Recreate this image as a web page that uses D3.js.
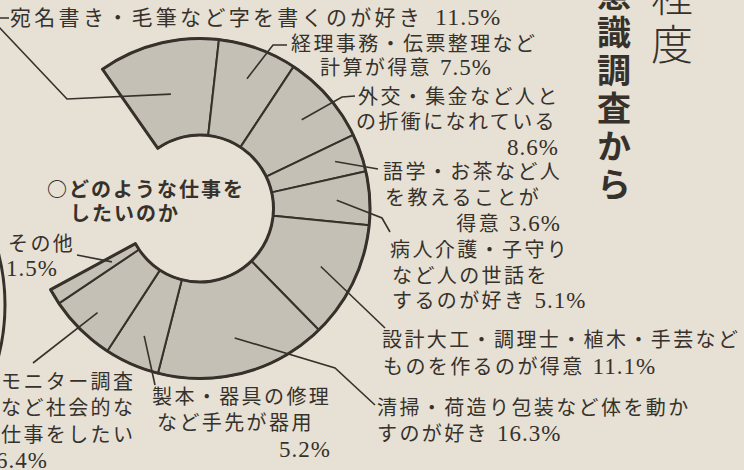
<!DOCTYPE html>
<html><head><meta charset="utf-8">
<script src="https://cdn.jsdelivr.net/npm/d3@7"></script>
<style>
html,body{margin:0;padding:0;background:#e6e1d4;}
svg{display:block;}
</style></head><body>
<svg id="chart" width="744" height="470"></svg>
<script>
// ---- data ----
const categories = [
  "宛名書き・毛筆など字を書くのが好き",
  "経理事務・伝票整理など計算が得意",
  "外交・集金など人との折衝になれている",
  "語学・お茶など人を教えることが得意",
  "病人介護・子守りなど人の世話をするのが好き",
  "設計大工・調理士・植木・手芸などものを作るのが得意",
  "清掃・荷造り包装など体を動かすのが好き",
  "製本・器具の修理など手先が器用",
  "モニター調査など社会的な仕事をしたい",
  "その他"
];
const values = [11.5, 7.5, 8.6, 3.6, 5.1, 11.1, 16.3, 5.2, 6.4, 1.5];
const valueLabels = ["11.5%", "7.5%", "8.6%", "3.6%", "5.1%", "11.1%", "16.3%", "5.2%", "6.4%", "1.5%"];
const labelLines = [
  ["宛名書き・毛筆など字を書くのが好き"],
  ["経理事務・伝票整理など", "計算が得意"],
  ["外交・集金など人と", "の折衝になれている", ""],
  ["語学・お茶など人", "を教えることが", "得意"],
  ["病人介護・子守り", "など人の世話を", "するのが好き"],
  ["設計大工・調理士・植木・手芸など", "ものを作るのが得意"],
  ["清掃・荷造り包装など体を動か", "すのが好き"],
  ["製本・器具の修理", "など手先が器用", ""],
  ["モニター調査", "など社会的な", "仕事をしたい", ""],
  ["その他", ""]
];
const chartTitle = ["○どのような仕事を", "したいのか"];
const headingBold = "意識調査から";
const headingLight = "程度";

// ---- layout (positions / styles, not data) ----
const W = 744, H = 470;
const cx = 200, cy = 208.5, rIn = 73.5, rOut = 170;
const startDeg = -35;
const ink = "#37312c";
const ringFill = "#c5c0b6";

const layout = [
  {xs:[10], ys:[25], fs:21, ls:3.3, gap:12, end:false, r:118, pts:[[67,99],[-9.5,18],[9,18]]},
  {xs:[291,320], ys:[51,75], fs:20, ls:2.4, gap:8, end:false, r:138, pts:[[273,45],[287,45]]},
  {xs:[358,356,559], ys:[104,129,155], fs:20, ls:2.4, gap:8, end:true, r:135, pts:[[342,97],[355,96]]},
  {xs:[383,385,561], ys:[179,205,231], fs:20, ls:2.4, gap:8, end:true, r:143, pts:[[378,169]]},
  {xs:[390,392,392], ys:[257,283,308], fs:20, ls:2.4, gap:8, end:false, r:137, pts:[[382,218],[390,232]]},
  {xs:[382,383], ys:[347,374], fs:20, ls:2.4, gap:8, end:false, r:134, pts:[[385,328]]},
  {xs:[377,377], ys:[415,441], fs:20, ls:2.4, gap:8, end:false, r:134, pts:[[335,368],[375,405]]},
  {xs:[152,157,331], ys:[404,430,457], fs:20, ls:2.4, gap:8, end:true, r:139, pts:[[155,385]]},
  {xs:[1,1,1,-4], ys:[389,415,442,468], fs:20, ls:2.4, gap:8, end:false, r:146, pts:[[33,363]]},
  {xs:[8,6], ys:[251,276], fs:20, ls:2.4, gap:8, end:false, r:103, pts:[[77,255]]}
];

const svg = d3.select("#chart");
svg.append("rect").attr("width", W).attr("height", H).attr("fill", "#e6e1d4");

// angle scale: percent -> radians
const angle = d3.scaleLinear().domain([0, 100])
  .range([startDeg * Math.PI / 180, startDeg * Math.PI / 180 + 2 * Math.PI]);

const cum = d3.cumsum(values);
const segs = values.map((v, i) => ({
  i, v, name: categories[i],
  startAngle: angle(cum[i] - v),
  endAngle: angle(cum[i])
}));

const arc = d3.arc().innerRadius(rIn).outerRadius(rOut);
const g = svg.append("g").attr("transform", `translate(${cx},${cy})`);

// remnant arc of the neighbouring chart at the left edge
svg.append("path")
  .attr("d", d3.arc().innerRadius(205).outerRadius(205)({startAngle: Math.PI*0.36, endAngle: Math.PI*0.64}))
  .attr("transform", "translate(-200,305)")
  .attr("fill", "none").attr("stroke", ink).attr("stroke-width", 3);

g.selectAll("path.seg").data(segs).join("path")
  .attr("class", "seg")
  .attr("d", d => arc(d))
  .attr("fill", ringFill)
  .attr("stroke", ink).attr("stroke-width", 2).attr("stroke-linejoin", "round");

g.append("path")
  .attr("d", arc({startAngle: segs[0].startAngle, endAngle: segs[segs.length-1].endAngle}))
  .attr("fill", "none").attr("stroke", ink).attr("stroke-width", 3).attr("stroke-linejoin", "round");

// leaders
const line = d3.line();
svg.selectAll("path.leader").data(segs).join("path")
  .attr("class", "leader")
  .attr("d", d => {
    const L = layout[d.i];
    const mid = (d.startAngle + d.endAngle) / 2;
    const p0 = [cx + L.r * Math.sin(mid), cy - L.r * Math.cos(mid)];
    return line([p0, ...L.pts]);
  })
  .attr("fill", "none").attr("stroke", ink).attr("stroke-width", 1.6);

// labels: one text element per label, one tspan per line
const font = "'Noto Sans CJK JP', 'Noto Sans CJK SC', sans-serif";
const numFont = "'Liberation Serif', 'DejaVu Serif', serif";
labelLines.forEach((lines, i) => {
  const L = layout[i];
  const t = svg.append("text")
    .attr("font-family", font).attr("font-size", L.fs)
    .attr("font-weight", 400)
    .attr("letter-spacing", L.ls)
    .attr("fill", ink);
  lines.forEach((txt, j) => {
    const last = j === lines.length - 1;
    const row = t.append("tspan")
      .attr("x", L.xs[j]).attr("y", L.ys[j])
      .attr("text-anchor", last && L.end ? "end" : "start");
    if (txt) row.append("tspan").text(txt);
    if (last) {
      row.append("tspan")
        .attr("dx", txt ? L.gap : 0)
        .attr("font-family", numFont)
        .attr("font-size", L.fs + 3)
        .attr("letter-spacing", 1)
        .text(valueLabels[i]);
    }
  });
});

// centre title (one element, two lines)
const ct = svg.append("text")
  .attr("font-family", font).attr("font-size", 20).attr("font-weight", 700)
  .attr("letter-spacing", 2).attr("fill", ink);
ct.selectAll("tspan").data(chartTitle).join("tspan")
  .attr("x", (d, i) => i === 0 ? 47 : 70)
  .attr("y", (d, i) => 197 + i * 24)
  .text(d => d);

// vertical headings
svg.append("text")
  .attr("x", 614).attr("y", -23)
  .style("writing-mode", "vertical-rl")
  .attr("font-family", font).attr("font-size", 34).attr("font-weight", 700)
  .attr("letter-spacing", 4)
  .attr("fill", ink).text(headingBold);

svg.append("text")
  .attr("x", 672).attr("y", -25)
  .style("writing-mode", "vertical-rl")
  .attr("font-family", font).attr("font-size", 42).attr("font-weight", 300)
  .attr("letter-spacing", 6)
  .attr("fill", ink).text(headingLight);
</script>
</body></html>
